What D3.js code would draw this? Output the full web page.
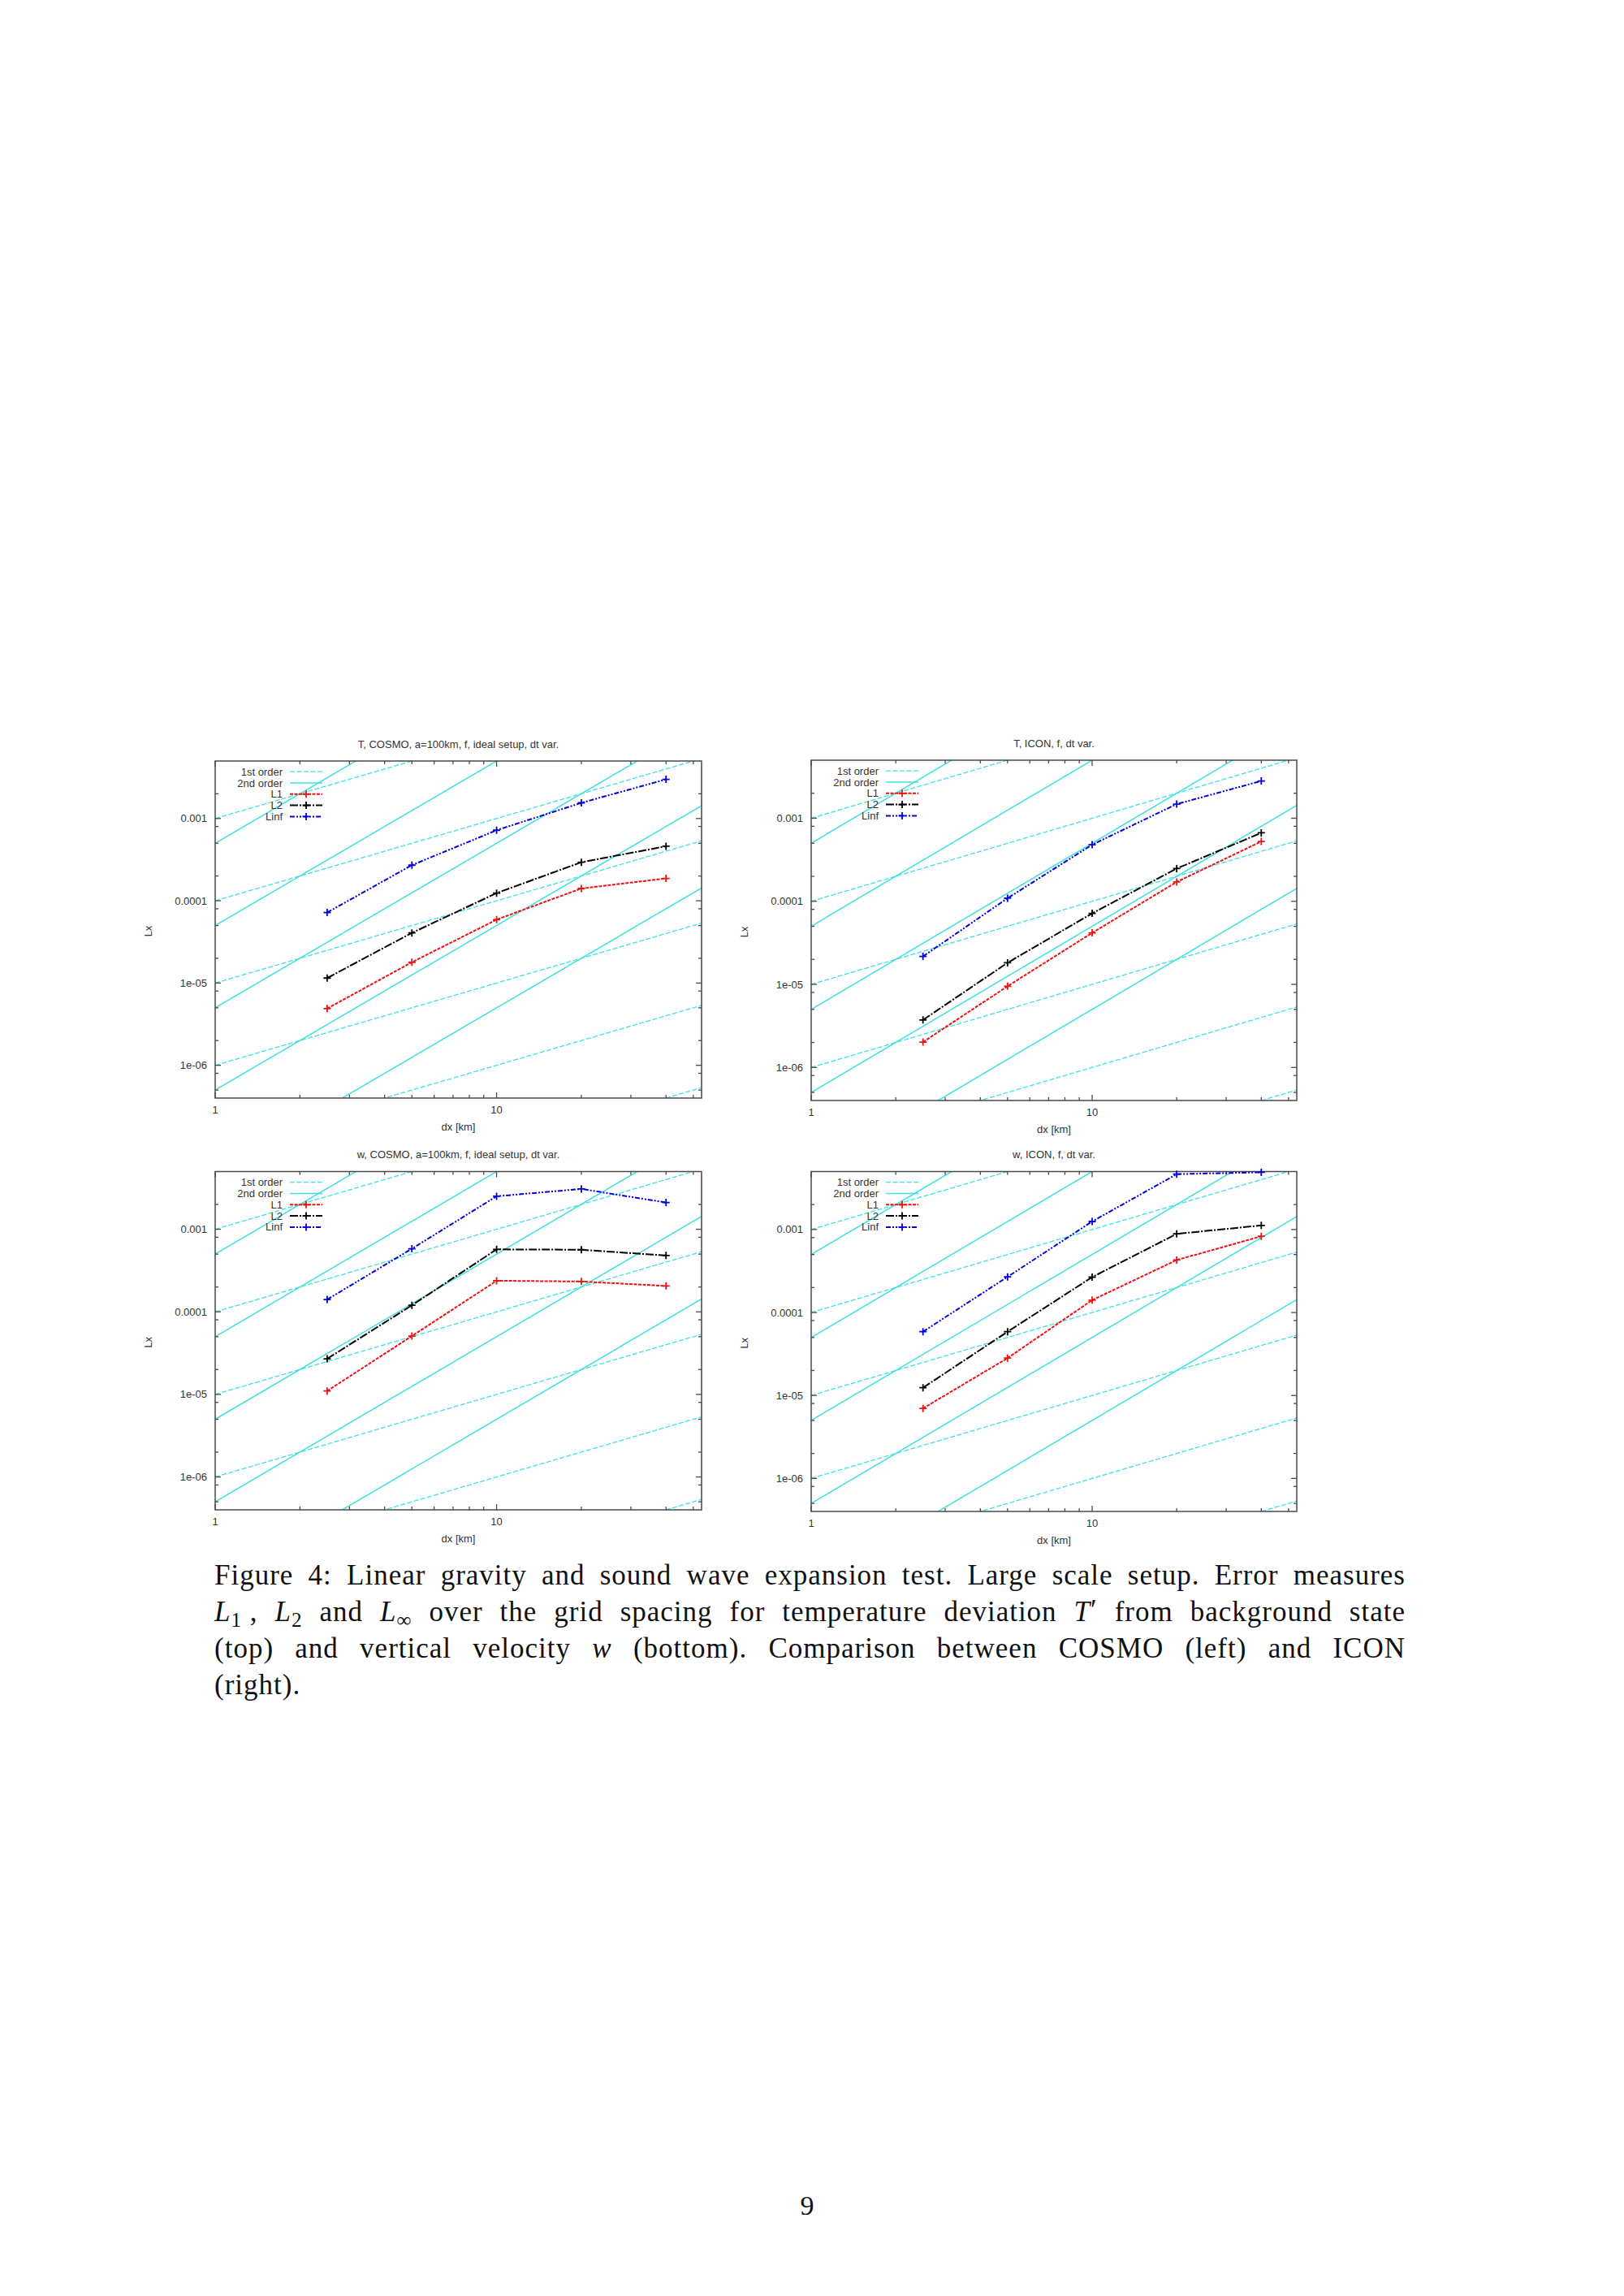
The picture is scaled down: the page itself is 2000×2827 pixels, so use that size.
<!DOCTYPE html>
<html>
<head>
<meta charset="utf-8">
<script src="https://cdn.jsdelivr.net/npm/d3@7"></script>
<style>
  body { margin: 0; background: #fff; }
  svg { display: block; }
</style>
</head>
<body>
<div id="page"></div>
<script>
// grid spacings (km) used by every panel
var dx = [2.5, 5, 10, 20, 40];

// T, COSMO
var tCosmoL1 = [4.9e-6, 1.79e-5, 5.9e-5, 1.41e-4, 1.87e-4];
var tCosmoL2 = [1.15e-5, 4.07e-5, 1.24e-4, 2.94e-4, 4.6e-4];
var tCosmoLinf = [7.2e-5, 2.71e-4, 7.2e-4, 1.55e-3, 2.99e-3];

// T, ICON
var tIconL1 = [2.02e-6, 9.5e-6, 4.17e-5, 1.71e-4, 5.25e-4];
var tIconL2 = [3.73e-6, 1.82e-5, 7.16e-5, 2.48e-4, 6.67e-4];
var tIconLinf = [2.17e-5, 1.09e-4, 4.8e-4, 1.48e-3, 2.81e-3];

// w, COSMO
var wCosmoL1 = [1.1e-5, 5.09e-5, 2.38e-4, 2.33e-4, 2.06e-4];
var wCosmoL2 = [2.7e-5, 1.2e-4, 5.71e-4, 5.65e-4, 4.81e-4];
var wCosmoLinf = [1.41e-4, 5.81e-4, 2.51e-3, 3.08e-3, 2.11e-3];

// w, ICON
var wIconL1 = [6.98e-6, 2.82e-5, 1.41e-4, 4.29e-4, 8.29e-4];
var wIconL2 = [1.24e-5, 5.87e-5, 2.67e-4, 8.87e-4, 1.12e-3];
var wIconLinf = [5.87e-5, 2.69e-4, 1.25e-3, 4.65e-3, 4.9e-3];

// reference slopes: C*dx (1st order) and C*dx^2 (2nd order)
var firstOrderC = [1e-3, 1e-4, 1e-5, 1e-6, 1e-7, 1e-8];
var secondOrderC = [5e-4, 5e-5, 5e-6, 5e-7, 5e-8];

// axes
var xDomain = [1, 53.5];
var yDomain = [4e-7, 5e-3];
var xTickValues = [1, 10];
var xTickLabels = ["1", "10"];
var yTickValues = [1e-6, 1e-5, 1e-4, 1e-3];
var yTickLabels = ["1e-06", "1e-05", "0.0001", "0.001"];
var xMinorTicks = [2, 3, 4, 5, 6, 7, 8, 9, 20, 30, 40, 50];
var yMinorTicks = [5e-7, 8e-7, 2e-6, 5e-6, 8e-6, 2e-5, 5e-5, 8e-5, 2e-4, 5e-4, 8e-4, 2e-3];

var titles = [
    "T, COSMO, a=100km, f, ideal setup, dt var.",
    "T, ICON, f, dt var.",
    "w, COSMO, a=100km, f, ideal setup, dt var.",
    "w, ICON, f, dt var."
];
var legendLabels = ["1st order", "2nd order", "L1", "L2", "Linf"];

// page
var pageWidth = 2000;
var pageHeight = 2827;

var svg = d3.select("#page").append("svg")
    .attr("width", pageWidth)
    .attr("height", pageHeight);

svg.append("rect")
    .attr("width", pageWidth)
    .attr("height", pageHeight)
    .attr("fill", "#fff");

// style of each series
var seriesStyle = [
    { color: "#ee1111", dash: "4,1.5" },
    { color: "#000000", dash: "10,2,2,2" },
    { color: "#0000dd", dash: "6,2,2,2,2,2" }
];
var refColor = "#3fe0e0";
var textColor = "#333";
var sansFont = "'Liberation Sans', Arial, sans-serif";

// panel boxes on the page
var panels = [
    { box: [265, 864, 937, 1352], title: titles[0], series: [tCosmoL1, tCosmoL2, tCosmoLinf] },
    { box: [999, 1597, 936, 1355], title: titles[1], series: [tIconL1, tIconL2, tIconLinf] },
    { box: [265, 864, 1442.5, 1859], title: titles[2], series: [wCosmoL1, wCosmoL2, wCosmoLinf] },
    { box: [999, 1597, 1442.5, 1861], title: titles[3], series: [wIconL1, wIconL2, wIconLinf] }
];

function drawPanel(panel, index) {
    var x0 = panel.box[0], x1 = panel.box[1], y0 = panel.box[2], y1 = panel.box[3];

    var x = d3.scaleLog().domain(xDomain).range([x0, x1]);
    var y = d3.scaleLog().domain(yDomain).range([y1, y0]);

    var g = svg.append("g").attr("class", "panel");

    var clipId = "clip" + index;
    g.append("clipPath").attr("id", clipId)
        .append("rect")
        .attr("x", x0).attr("y", y0)
        .attr("width", x1 - x0).attr("height", y1 - y0);

    // reference lines, straight in log-log space
    var refGroup = g.append("g").attr("clip-path", "url(#" + clipId + ")");
    var ends = [xDomain[0], xDomain[1]];

    firstOrderC.forEach(function (c) {
        refGroup.append("line")
            .attr("x1", x(ends[0])).attr("y1", y(c * ends[0]))
            .attr("x2", x(ends[1])).attr("y2", y(c * ends[1]))
            .attr("stroke", refColor)
            .attr("stroke-width", 1.3)
            .attr("stroke-dasharray", "6,2.5");
    });

    secondOrderC.forEach(function (c) {
        refGroup.append("line")
            .attr("x1", x(ends[0])).attr("y1", y(c * ends[0] * ends[0]))
            .attr("x2", x(ends[1])).attr("y2", y(c * ends[1] * ends[1]))
            .attr("stroke", refColor)
            .attr("stroke-width", 1.5);
    });

    // border
    g.append("rect")
        .attr("x", x0).attr("y", y0)
        .attr("width", x1 - x0).attr("height", y1 - y0)
        .attr("fill", "none")
        .attr("stroke", "#4a4a4a")
        .attr("stroke-width", 1.5);

    // ticks on all four sides, pointing inward
    var tickGroup = g.append("g").attr("stroke", "#4a4a4a").attr("stroke-width", 1.3);
    var major = 7, minor = 4;

    xTickValues.concat(xMinorTicks).forEach(function (v, i) {
        var len = i < xTickValues.length ? major : minor;
        tickGroup.append("line").attr("x1", x(v)).attr("x2", x(v)).attr("y1", y1).attr("y2", y1 - len);
        tickGroup.append("line").attr("x1", x(v)).attr("x2", x(v)).attr("y1", y0).attr("y2", y0 + len);
    });

    yTickValues.concat(yMinorTicks).forEach(function (v, i) {
        var len = i < yTickValues.length ? major : minor;
        tickGroup.append("line").attr("y1", y(v)).attr("y2", y(v)).attr("x1", x0).attr("x2", x0 + len);
        tickGroup.append("line").attr("y1", y(v)).attr("y2", y(v)).attr("x1", x1).attr("x2", x1 - len);
    });

    // tick labels
    var labelGroup = g.append("g")
        .attr("font-family", sansFont)
        .attr("font-size", 13)
        .attr("fill", textColor);

    yTickValues.forEach(function (v, i) {
        labelGroup.append("text")
            .attr("x", x0 - 10)
            .attr("y", y(v))
            .attr("dy", "0.35em")
            .attr("text-anchor", "end")
            .text(yTickLabels[i]);
    });

    xTickValues.forEach(function (v, i) {
        labelGroup.append("text")
            .attr("x", x(v))
            .attr("y", y1 + 14)
            .attr("dy", "0.35em")
            .attr("text-anchor", "middle")
            .text(xTickLabels[i]);
    });

    // axis labels and title
    labelGroup.append("text")
        .attr("x", (x0 + x1) / 2)
        .attr("y", y1 + 35)
        .attr("dy", "0.35em")
        .attr("text-anchor", "middle")
        .text("dx [km]");

    labelGroup.append("text")
        .attr("transform", "translate(" + (x0 - 83) + "," + ((y0 + y1) / 2 + 2) + ") rotate(-90)")
        .attr("dy", "0.35em")
        .attr("text-anchor", "middle")
        .text("Lx");

    labelGroup.append("text")
        .attr("x", (x0 + x1) / 2)
        .attr("y", y0 - 21)
        .attr("dy", "0.35em")
        .attr("text-anchor", "middle")
        .text(panel.title);

    // error curves
    var line = d3.line()
        .x(function (d) { return x(d[0]); })
        .y(function (d) { return y(d[1]); });

    panel.series.forEach(function (values, s) {
        var pts = dx.map(function (d, i) { return [d, values[i]]; });
        var style = seriesStyle[s];
        g.append("path")
            .datum(pts)
            .attr("d", line)
            .attr("fill", "none")
            .attr("stroke", style.color)
            .attr("stroke-width", 2)
            .attr("stroke-dasharray", style.dash);

        g.selectAll(null)
            .data(pts)
            .enter()
            .append("path")
            .attr("d", function (d) {
                var cx = x(d[0]), cy = y(d[1]), r = 4.5;
                return "M" + (cx - r) + "," + cy + "H" + (cx + r) + "M" + cx + "," + (cy - r) + "V" + (cy + r);
            })
            .attr("stroke", style.color)
            .attr("stroke-width", 1.8);
    });

    // legend
    var legend = g.append("g");
    var rowStep = 13.8;
    legendLabels.forEach(function (label, i) {
        var ly = y0 + 13.2 + i * rowStep;
        legend.append("text")
            .attr("x", x0 + 83)
            .attr("y", ly)
            .attr("dy", "0.35em")
            .attr("text-anchor", "end")
            .attr("font-family", sansFont)
            .attr("font-size", 13)
            .attr("fill", textColor)
            .text(label);

        var sample = legend.append("line")
            .attr("x1", x0 + 92).attr("x2", x0 + 132)
            .attr("y1", ly).attr("y2", ly);

        if (i === 0) {
            sample.attr("stroke", refColor).attr("stroke-width", 1.3).attr("stroke-dasharray", "6,2.5");
        } else if (i === 1) {
            sample.attr("stroke", refColor).attr("stroke-width", 1.5);
        } else {
            var style = seriesStyle[i - 2];
            sample.attr("stroke", style.color).attr("stroke-width", 2).attr("stroke-dasharray", style.dash);
            var mx = x0 + 112, r = 4.5;
            legend.append("path")
                .attr("d", "M" + (mx - r) + "," + ly + "H" + (mx + r) + "M" + mx + "," + (ly - r) + "V" + (ly + r))
                .attr("stroke", style.color)
                .attr("stroke-width", 1.8);
        }
    });
}

panels.forEach(drawPanel);

//////// Caption, justified like the LaTeX paragraph ////////
var serifFont = "'Liberation Serif', 'Times New Roman', serif";
var captionLeft = 264;
var captionRight = 1731;
var captionSize = 35;

function plain(str) {
    return str.split(" ").map(function (w) { return [{ t: w }]; });
}

var captionLines = [
    { y: 1951, justify: true, words: plain("Figure 4: Linear gravity and sound wave expansion test. Large scale setup. Error measures") },
    { y: 1996, justify: true, words: [
        [{ t: "L", it: true }, { t: "1", sub: true }, { t: " ," }],
        [{ t: "L", it: true }, { t: "2", sub: true }],
        [{ t: "and" }],
        [{ t: "L", it: true }, { t: "∞", sub: true }]
    ].concat(plain("over the grid spacing for temperature deviation"))
     .concat([[{ t: "T", it: true }, { t: "′" }]])
     .concat(plain("from background state")) },
    { y: 2041, justify: true, words: plain("(top) and vertical velocity")
        .concat([[{ t: "w", it: true }]])
        .concat(plain("(bottom). Comparison between COSMO (left) and ICON")) },
    { y: 2086, justify: false, words: plain("(right).") }
];

var caption = svg.append("g")
    .attr("font-family", serifFont)
    .attr("font-size", captionSize)
    .attr("letter-spacing", 1)
    .attr("fill", "#111");

captionLines.forEach(function (ln) {
    var nodes = ln.words.map(function (runs) {
        var t = caption.append("text").attr("y", ln.y);
        var shifted = false;
        runs.forEach(function (run) {
            var ts = t.append("tspan").text(run.t);
            if (run.it) ts.attr("font-style", "italic");
            if (run.sub && !shifted) {
                ts.attr("dy", 7).attr("font-size", captionSize * 0.72);
                shifted = true;
            } else if (run.sub) {
                ts.attr("font-size", captionSize * 0.72);
            } else if (shifted) {
                ts.attr("dy", -7);
                shifted = false;
            }
            if (run.t === "′") ts.attr("dy", -2);
        });
        return t;
    });

    var widths = nodes.map(function (n) { return n.node().getComputedTextLength(); });
    var total = d3.sum(widths);
    var gap = ln.justify && nodes.length > 1
        ? (captionRight - captionLeft - total) / (nodes.length - 1)
        : captionSize * 0.3;

    var cx = captionLeft;
    nodes.forEach(function (n, i) {
        n.attr("x", cx);
        cx += widths[i] + gap;
    });
});

// page number
svg.append("text")
    .attr("x", 994)
    .attr("y", 2727)
    .attr("text-anchor", "middle")
    .attr("font-family", serifFont)
    .attr("font-size", 34)
    .attr("fill", "#111")
    .text("9");
</script>
</body>
</html>
